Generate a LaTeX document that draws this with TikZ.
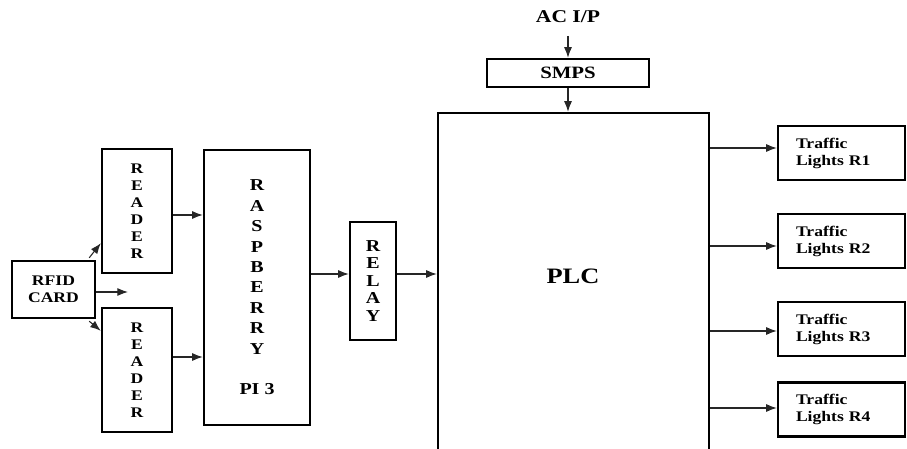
\documentclass[tikz,border=0pt]{standalone}
\usepackage{fontspec}
\setmainfont[FakeStretch=1.2]{Liberation Serif}
\usetikzlibrary{positioning, arrows.meta, calc}
\newdimen\pxu \pxu=0.75pt
\tikzset{
    blk/.style={draw, line width=1.8pt, inner sep=0pt, font=\bfseries},
    letters/.style={align=center, font=\bfseries\fontsize{11}{12.75}\selectfont},
    lightbox/.style={blk, minimum width=127\pxu, minimum height=54\pxu, text width=91\pxu, inner xsep=18\pxu, align=left, font=\bfseries\fontsize{11}{12.75}\selectfont},
    arrow/.style={-{Latex[length=8pt, width=6pt]}, line width=0.8pt, black!85}
}

\begin{document}
\begin{tikzpicture}[x=0.75pt, y=-0.75pt]
    \useasboundingbox (0,0) rectangle (907,449);

    % Card and the two readers
    \node[blk, letters, minimum width=83\pxu, minimum height=57\pxu] (rfid) at (53.5,289.5) {RFID\\CARD};
    \node[blk, letters, minimum width=70\pxu, minimum height=124\pxu] (rd1) at (137,211) {R\\E\\A\\D\\E\\R};
    \node[blk, letters, minimum width=70\pxu, minimum height=124\pxu] (rd2) at (137,370) {R\\E\\A\\D\\E\\R};
    \coordinate (rfidout) at (128,292);

    % Controller, relay and PLC
    \node[blk, align=center, font=\bfseries\fontsize{12.5}{15.3}\selectfont, minimum width=106\pxu, minimum height=275\pxu] (rasp) at (257,287.5) {R\\A\\S\\P\\B\\E\\R\\R\\Y\\[15.3pt]PI 3};
    \node[blk, align=center, font=\bfseries\fontsize{12.5}{13.1}\selectfont, minimum width=46\pxu, minimum height=118\pxu] (relay) at (373,281) {R\\E\\L\\A\\Y};
    \node[blk, minimum width=271\pxu, minimum height=357\pxu] (plc) at (573.5,291.5) {};
    \node[font=\bfseries\fontsize{16.5}{18}\selectfont] (plctxt) at (573,276) {PLC};

    % Supply
    \node[font=\bfseries\fontsize{13.5}{15}\selectfont] (acin) at (568,17) {AC I/P};
    \node[blk, font=\bfseries\fontsize{13}{14}\selectfont, minimum width=162\pxu, minimum height=28\pxu] (smps) at (568,73) {SMPS};

    \draw[arrow] ($(rfid.north east)+(-7,-2)$) -- ($(rd1.south west)+(0,-31)$);
    \draw[arrow] ($(rfid.south east)+(-7,2)$) -- ($(rd2.north west)+(0,24)$);
    \draw[arrow] (rfid.east |- rfidout) -- (rfidout);
    \draw[arrow] ($(rd1.east)+(0,4)$) -- ($(rd1.east -| rasp.west)+(0,4)$);
    \draw[arrow] ($(rd2.east)+(0,-13)$) -- ($(rd2.east -| rasp.west)+(0,-13)$);
    \draw[arrow] ($(rasp.east)+(0,-13.5)$) -- ($(relay.west)+(0,-7)$);
    \draw[arrow] ($(relay.east)+(0,-7)$) -- ($(relay.east -| plc.west)+(0,-7)$);
    \draw[arrow] ($(acin.south)+(0,8)$) -- (smps.north);
    \draw[arrow] (smps.south) -- (smps.south |- plc.north);

    % Traffic light outputs
    \foreach \n/\yc/\ya in {1/153/148, 2/241/246, 3/329/331, 4/409.5/408}{
        \node[lightbox] (tl\n) at (841.5,\yc) {Traffic\\Lights R\n};
        \coordinate (tlin\n) at ($(tl\n.west)+(0,\ya-\yc)$);
        \draw[arrow] (plc.east |- tlin\n) -- (tlin\n);
    }
\end{tikzpicture}
\end{document}
